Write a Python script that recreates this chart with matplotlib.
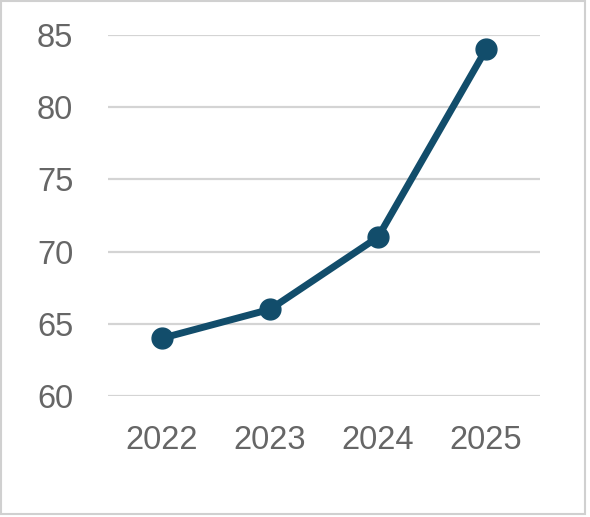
import matplotlib.pyplot as plt
from matplotlib.patches import Rectangle

# Data
years = ["2022", "2023", "2024", "2025"]
values = [64, 66, 71, 84]
y_ticks = [60, 65, 70, 75, 80, 85]

line_color = "#124D6B"
text_color = "#666666"
grid_color = "#D4D4D4"

plt.rcParams['font.family'] = ['Liberation Sans', 'DejaVu Sans']

fig = plt.figure(figsize=(5.9, 5.17), dpi=100)
# axes placed in pixels: left 108, right 540, top 35, bottom 396
W, H = 590, 517
ax = fig.add_axes([108 / W, 1 - 396 / H, (540 - 108) / W, (396 - 35) / H])

x = list(range(len(years)))
ax.plot(x, values, color=line_color, linewidth=5, marker="o",
        markersize=15, zorder=3, clip_on=False)

ax.set_xlim(-0.5, len(years) - 0.5)
ax.set_ylim(60, 85)
ax.set_yticks(y_ticks)
ax.set_xticks(x)
ax.set_xticklabels(years)

ax.grid(axis="y", color=grid_color, linewidth=1.6)
ax.set_axisbelow(True)
for side in ["top", "right", "left", "bottom"]:
    ax.spines[side].set_visible(False)
ax.tick_params(axis="both", length=0, labelsize=23.5, labelcolor=text_color)
ax.tick_params(axis="y", pad=25)
ax.tick_params(axis="x", pad=21)

# chart border
fig.patches.append(Rectangle((1 / W, 3 / H), 584 / W, 513 / H,
                             transform=fig.transFigure, fill=False,
                             edgecolor="#D0D0D0", linewidth=1.5))

fig.savefig("out.png", dpi=100)
